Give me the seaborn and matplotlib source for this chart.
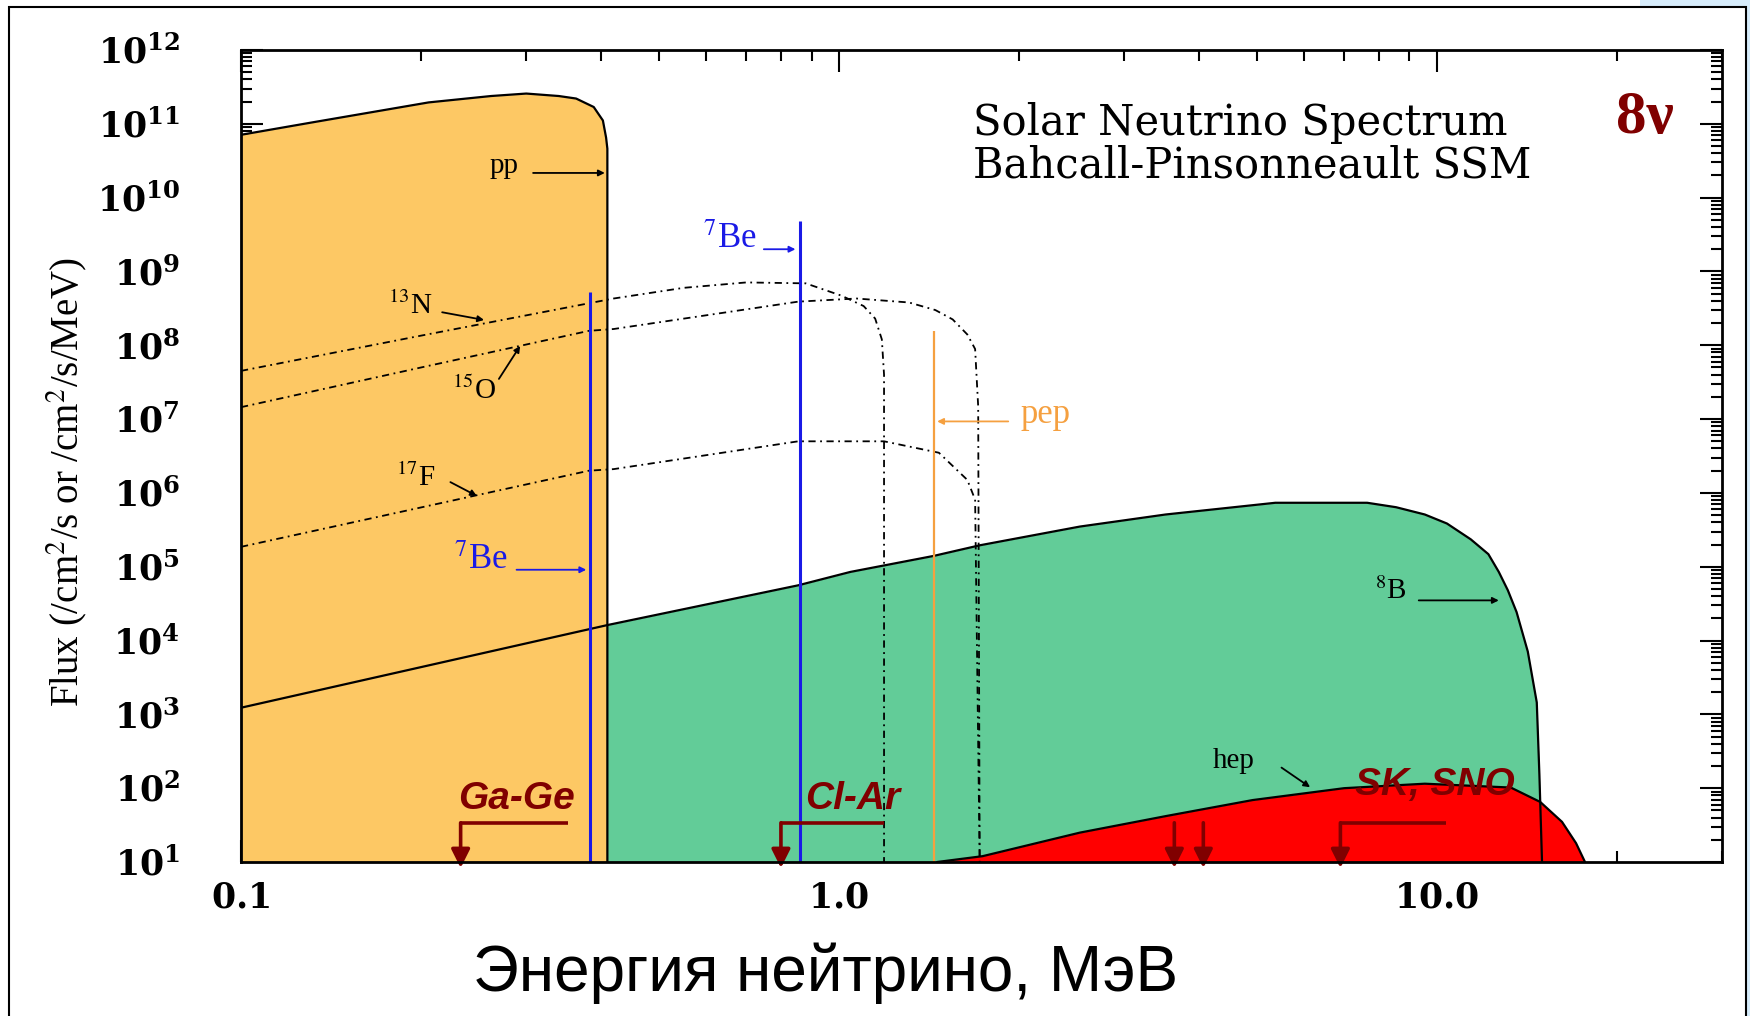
import numpy as np
import seaborn as sns
import matplotlib.pyplot as plt
from matplotlib.patches import Rectangle
from matplotlib.ticker import FixedLocator, FuncFormatter, NullFormatter

# spectrum data (energy in MeV, flux)
pp_E = [0.1, 0.132, 0.206, 0.262, 0.30, 0.34, 0.3635, 0.389, 0.403, 0.408, 0.41, 0.41]
pp_F = [7.1e10, 1.05e11, 1.95e11, 2.38e11, 2.57e11, 2.38e11, 2.2e11, 1.69e11, 1.11e11, 6.5e10, 4.6e10, 10]

b8_E = [0.1, 0.41, 0.855, 1.045, 1.44, 1.72, 2.53, 3.52, 5.37, 7.65, 8.55, 9.55, 10.4,
        11.4, 12.2, 12.7, 13.15, 13.6, 14.2, 14.7, 14.85, 15.0]
b8_F = [1.23e3, 1.62e4, 5.6e4, 8.5e4, 1.4e5, 1.95e5, 3.5e5, 5.1e5, 7.35e5, 7.35e5, 6.4e5, 5.1e5, 3.85e5,
        2.35e5, 1.48e5, 8.5e4, 4.8e4, 2.43e4, 7.1e3, 1.45e3, 151, 10]

hep_E = [1.46, 1.74, 2.53, 3.53, 4.92, 7.0, 9.55, 13.3, 14.9, 16.2, 17.1, 17.7]
hep_F = [10, 12, 25, 42, 69, 100, 115, 102, 65, 35, 18, 10]

n13_E = [0.1, 0.2, 0.42, 0.55, 0.70, 0.88, 1.01, 1.10, 1.15, 1.18, 1.19, 1.19]
n13_F = [4.5e7, 1.35e8, 4.3e8, 6.0e8, 7.1e8, 6.9e8, 4.7e8, 3.4e8, 2.3e8, 1.2e8, 4e7, 10]

o15_E = [0.1, 0.2, 0.382, 0.42, 0.855, 1.07, 1.31, 1.45, 1.55, 1.64, 1.69, 1.71, 1.72]
o15_F = [1.45e7, 5.0e7, 1.57e8, 1.66e8, 3.9e8, 4.3e8, 3.8e8, 3.0e8, 2.24e8, 1.4e8, 8.9e7, 1.5e7, 10]

f17_E = [0.1, 0.382, 0.42, 0.855, 1.19, 1.47, 1.64, 1.69, 1.72]
f17_F = [1.86e5, 2.0e6, 2.1e6, 5.0e6, 5.0e6, 3.5e6, 1.5e6, 8.1e5, 10]

# line sources
be7_E = [0.384, 0.862]
be7_F = [5.2e8, 4.9e9]
pep_E = 1.442
pep_F = 1.55e8

# detector thresholds
det_names = ["Ga-Ge", "Cl-Ar", "SK, SNO"]
det_thr = [0.233, 0.80, 6.9]
det_end = [0.352, 1.19, 10.35]
det_lab_x = [0.289, 1.053, 9.92]
det_lab_y = [72, 72, 111]
sk_extra = [3.64, 4.07]

x_ticks = [0.1, 1.0, 10.0]
x_ticklabels = ["0.1", "1.0", "10.0"]

ORANGE = "#fdc864"
GREEN = "#62cc98"
RED = "#ff0000"
DARKRED = "#800000"
BLUE = "#1a1ae6"
PEPC = "#f5a040"

sns.set_style("ticks")
plt.rcParams["font.family"] = ["Liberation Serif", "DejaVu Serif"]
plt.rcParams["mathtext.fontset"] = "dejavuserif"
plt.rcParams["text.color"] = "black"
plt.rcParams["axes.labelcolor"] = "black"

fig = plt.figure(figsize=(17.5, 10.16), dpi=100)
ax = fig.add_axes([241 / 1750, 1 - 862 / 1016, (1722 - 241) / 1750, (862 - 50) / 1016])
ax.set_xscale("log")
ax.set_yscale("log")
ax.set_xlim(0.1, 30)
ax.set_ylim(10, 1e12)

# fills
ax.fill_between(pp_E, pp_F, 10, color=ORANGE, lw=0, zorder=1)
b8e = np.array(b8_E)
ax.fill_between(b8_E, b8_F, 10, where=b8e >= 0.41, color=GREEN, lw=0, zorder=1)
ax.fill_between(hep_E, hep_F, 10, color=RED, lw=0, zorder=2)

# outlines
for xs, ys in [(pp_E, pp_F), (b8_E, b8_F), (hep_E, hep_F)]:
    sns.lineplot(x=xs, y=ys, estimator=None, sort=False, color="black", lw=1.6, ax=ax, zorder=3)

# CNO spectra
for xs, ys in [(n13_E, n13_F), (o15_E, o15_F), (f17_E, f17_F)]:
    sns.lineplot(x=xs, y=ys, estimator=None, sort=False, color="black", lw=1.3,
                 linestyle=(0, (4, 2.5, 1, 2.5)), ax=ax, zorder=3)

# lines
ax.vlines(be7_E, 10, be7_F, color=BLUE, lw=2.2, zorder=4)
ax.vlines(pep_E, 10, pep_F, color=PEPC, lw=1.6, zorder=4)

# labels with arrows
arw = dict(arrowstyle="-|>", lw=1.3, mutation_scale=9, shrinkA=0, shrinkB=0)
def lab(txt, xy, x0, x1, color="black", size=21):
    ax.text(xy[0], xy[1], txt, ha="center", va="center", color=color, size=size, zorder=6,
            math_fontfamily="stix")
    ax.annotate("", xy=x1, xytext=x0, arrowprops=dict(arw, color=color), zorder=6)

lab("pp", (0.275, 2.7e10), (0.308, 2.16e10), (0.406, 2.16e10))
lab("$^{13}$N", (0.192, 3.4e8), (0.217, 2.8e8), (0.255, 2.2e8))
lab("$^{15}$O", (0.245, 2.45e7), (0.27, 3.5e7), (0.293, 9.8e7))
lab("$^{17}$F", (0.196, 1.6e6), (0.224, 1.4e6), (0.248, 9.1e5))
lab("$^{7}$Be", (0.252, 1.2e5), (0.289, 9.1e4), (0.378, 9.1e4), color=BLUE, size=25)
lab("$^{7}$Be", (0.658, 2.75e9), (0.749, 2.0e9), (0.846, 2.0e9), color=BLUE, size=25)
lab("pep", (2.22, 1.15e7), (1.92, 9.3e6), (1.46, 9.3e6), color=PEPC, size=25)
lab("$^{8}$B", (8.37, 4.6e4), (9.33, 3.5e4), (12.7, 3.5e4))
lab("hep", (4.57, 230), (5.5, 190), (6.14, 103))

# detector thresholds
dark_arrow = dict(arrowstyle="-|>", lw=2.6, color=DARKRED, mutation_scale=28, shrinkA=0, shrinkB=0)
for name, thr, end, lx, ly in zip(det_names, det_thr, det_end, det_lab_x, det_lab_y):
    ax.text(lx, ly, name, ha="center", va="center", color=DARKRED, size=28,
            family="Liberation Sans", weight="bold", style="italic", zorder=7)
    ax.plot([thr, end], [34, 34], color=DARKRED, lw=2.6, solid_capstyle="butt", zorder=7)
    ax.annotate("", xy=(thr, 8.3), xytext=(thr, 34), annotation_clip=False, zorder=7,
                arrowprops=dark_arrow)
for thr in sk_extra:
    ax.annotate("", xy=(thr, 8.3), xytext=(thr, 34), annotation_clip=False, zorder=7,
                arrowprops=dark_arrow)

# ticks
ax.xaxis.set_major_locator(FixedLocator(x_ticks))
ax.xaxis.set_minor_locator(FixedLocator([m * 10.0 ** k for k in (-1, 0, 1) for m in range(2, 10) if m * 10.0 ** k <= 30]))
ax.xaxis.set_major_formatter(FuncFormatter(lambda v, p: r"$\mathbf{%s}$" % x_ticklabels[x_ticks.index(v)] if v in x_ticks else ""))
ax.xaxis.set_minor_formatter(NullFormatter())
ax.yaxis.set_major_locator(FixedLocator([10.0 ** k for k in range(1, 13)]))
ax.yaxis.set_minor_locator(FixedLocator([m * 10.0 ** k for k in range(1, 12) for m in range(2, 10)]))
ax.yaxis.set_major_formatter(FuncFormatter(lambda v, p: r"$\mathbf{10^{%d}}$" % round(np.log10(v))))
ax.yaxis.set_minor_formatter(NullFormatter())
ax.tick_params(which="both", direction="in", top=True, right=True, width=1.5, colors="black")
ax.tick_params(which="major", length=16)
ax.tick_params(which="minor", length=8)
ax.tick_params(axis="y", which="major", labelsize=25, pad=44)
ax.tick_params(axis="x", which="major", labelsize=25, pad=15)
for s in ax.spines.values():
    s.set_linewidth(2)
    s.set_color("black")
    s.set_zorder(8)

# texts
title_font = ["DejaVu Serif"]
fig.text(973 / 1750, 1 - 135 / 1016, "Solar Neutrino Spectrum", size=30, va="baseline", family=title_font)
fig.text(973 / 1750, 1 - 178 / 1016, "Bahcall-Pinsonneault SSM", size=30, va="baseline", family=title_font)
fig.text(1616 / 1750, 1 - 133 / 1016, "8ν", size=44, weight="bold", color=DARKRED, va="baseline")
fig.text(67 / 1750, 1 - 482 / 1016, "Flux (/cm$^2$/s or /cm$^2$/s/MeV)", size=28,
         rotation=90, ha="center", va="center", math_fontfamily="stix")
fig.text(740 * 1.116 / 1750, 1 - 991 / 1016, "Энергия нейтрино, МэВ", size=46,
         family="Liberation Sans", ha="center", va="baseline")

# slide frame
fig.add_artist(Rectangle((1640 / 1750, 1 - 7 / 1016), 110 / 1750, 7 / 1016,
                         transform=fig.transFigure, color="#d6ecfb", lw=0))
fig.add_artist(Rectangle((1747 / 1750, 0), 3 / 1750, 1, transform=fig.transFigure, color="#d6ecfb", lw=0))
fig.add_artist(Rectangle((9 / 1750, -0.1), (1746 - 9) / 1750, 1.1 - 7 / 1016,
                         transform=fig.transFigure, fill=False, lw=1.5, ec="black"))

fig.savefig("out.png", dpi=100)
